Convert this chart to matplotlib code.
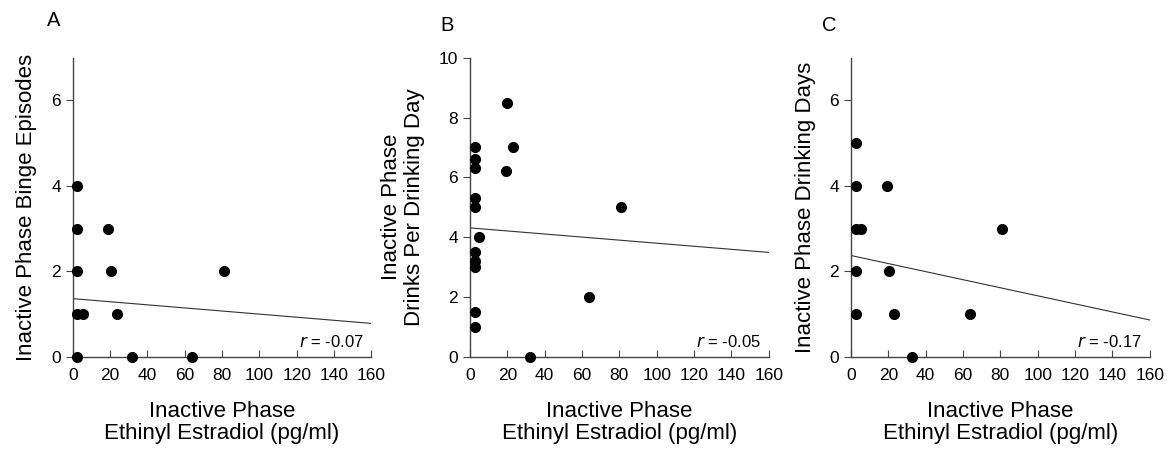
import matplotlib.pyplot as plt
import numpy as np

plt.rcParams['font.family'] = ['Liberation Sans', 'DejaVu Sans']

# Panel A: binge episodes vs ethinyl estradiol
a_x = [2.5, 2.5, 2.5, 2.5, 2.5, 5.5, 19, 20.5, 23.5, 32, 64, 81]
a_y = [4, 3, 2, 1, 0, 1, 3, 2, 1, 0, 0, 2]
a_fit = [1.36, 0.78]   # fitted line at x=0 and x=160
a_r = '-0.07'

# Panel B: drinks per drinking day
b_x = [2.5, 2.5, 2.5, 2.5, 2.5, 2.5, 2.5, 2.5, 2.5, 2.5, 5.0, 19.2, 20.0, 23.1, 32, 64, 81]
b_y = [7.0, 6.6, 6.3, 5.3, 5.0, 3.5, 3.2, 3.0, 1.5, 1.0, 4.0, 6.2, 8.5, 7.0, 0, 2, 5]
b_fit = [4.31, 3.49]
b_r = '-0.05'

# Panel C: drinking days
c_x = [2.5, 2.5, 2.5, 2.5, 2.5, 5.5, 19.3, 20.2, 23.2, 32.5, 64, 81]
c_y = [5, 4, 3, 2, 1, 3, 4, 2, 1, 0, 1, 3]
c_fit = [2.37, 0.86]
c_r = '-0.17'

fit_x = [0, 160]
x_ticks = [0, 20, 40, 60, 80, 100, 120, 140, 160]

panels = [
    ('A', a_x, a_y, a_fit, a_r, 'Inactive Phase Binge Episodes', (0, 7), [0, 2, 4, 6]),
    ('B', b_x, b_y, b_fit, b_r, 'Inactive Phase\nDrinks Per Drinking Day', (0, 10), [0, 2, 4, 6, 8, 10]),
    ('C', c_x, c_y, c_fit, c_r, 'Inactive Phase Drinking Days', (0, 7), [0, 2, 4, 6]),
]

lefts = [0.0623, 0.4027, 0.7292]
letter_pos = [(0.040, 0.956), (0.377, 0.945), (0.704, 0.945)]

fig = plt.figure(figsize=(11.67, 4.55), dpi=100)

for i, (letter, xs, ys, fit, r, ylab, ylim, yticks) in enumerate(panels):
    ax = fig.add_axes([lefts[i], 0.216, 0.256, 0.657])
    ax.scatter(xs, ys, s=7 ** 2, color='black', zorder=3, clip_on=False)
    ax.plot(fit_x, fit, color='#333333', linewidth=0.8)

    ax.set_xlim(0, 160)
    ax.set_ylim(*ylim)
    ax.set_xticks(x_ticks)
    ax.set_yticks(yticks)

    for side in ['top', 'right']:
        ax.spines[side].set_visible(False)
    for side in ['left', 'bottom']:
        ax.spines[side].set_color('#444444')
        ax.spines[side].set_linewidth(1.0)

    ax.tick_params(axis='y', direction='out', length=5, color='#444444', labelsize=12.5)
    ax.tick_params(axis='x', direction='in', length=5, color='#444444', labelsize=12.5, pad=8)

    ax.set_xlabel('Inactive Phase\nEthinyl Estradiol (pg/ml)', fontsize=16, labelpad=13, linespacing=1.1)
    ax.set_ylabel(ylab, fontsize=16, labelpad=10, linespacing=1.1)

    ax.text(156, ylim[1] * 0.048, f'$r$ = {r}', ha='right', va='center', fontsize=12)

    fig.text(letter_pos[i][0], letter_pos[i][1], letter, fontsize=14.5, ha='left', va='center')

plt.savefig('out.png', dpi=100)
